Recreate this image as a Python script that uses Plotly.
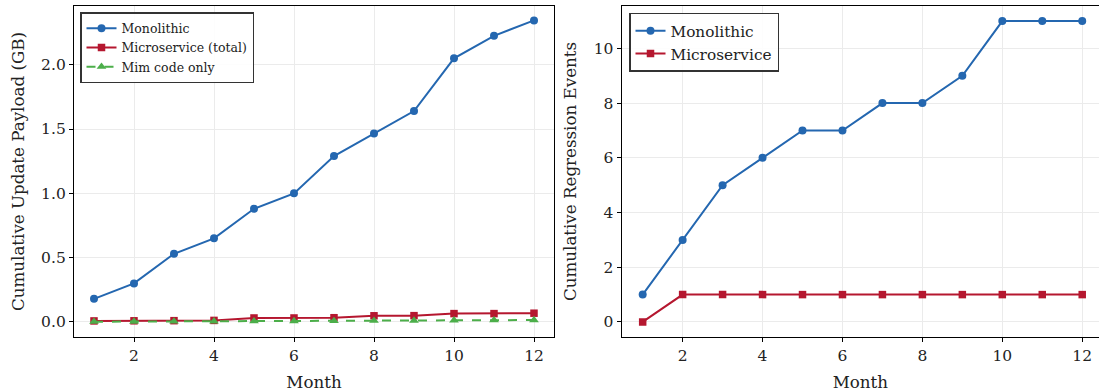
import plotly.graph_objects as go

months = list(range(1, 13))
payload_mono = [0.18, 0.30, 0.53, 0.65, 0.88, 1.00, 1.29, 1.465, 1.64, 2.05, 2.225, 2.345]
payload_micro = [0.008, 0.009, 0.010, 0.012, 0.031, 0.031, 0.033, 0.048, 0.049, 0.065, 0.065, 0.068]
payload_mim = [0.002, 0.003, 0.004, 0.005, 0.006, 0.007, 0.008, 0.010, 0.011, 0.013, 0.014, 0.015]
reg_mono = [1, 3, 5, 6, 7, 7, 8, 8, 9, 11, 11, 11]
reg_micro = [0, 1, 1, 1, 1, 1, 1, 1, 1, 1, 1, 1]

BLUE = "#2467b0"
RED = "#b5172f"
GREEN = "#4cae4a"
FONT = "DejaVu Serif"
W, H = 1099, 392

fig = go.Figure()
fig.add_trace(go.Scatter(x=months, y=payload_mono, name="Monolithic", mode="lines+markers",
                         line=dict(color=BLUE, width=2), marker=dict(symbol="circle", size=8, color=BLUE),
                         xaxis="x", yaxis="y", legend="legend"))
fig.add_trace(go.Scatter(x=months, y=payload_micro, name="Microservice (total)", mode="lines+markers",
                         line=dict(color=RED, width=2), marker=dict(symbol="square", size=7.5, color=RED),
                         xaxis="x", yaxis="y", legend="legend"))
fig.add_trace(go.Scatter(x=months, y=payload_mim, name="Mim code only", mode="lines+markers",
                         line=dict(color=GREEN, width=2, dash="dash"),
                         marker=dict(symbol="triangle-up", size=8.5, color=GREEN),
                         xaxis="x", yaxis="y", legend="legend"))
fig.add_trace(go.Scatter(x=months, y=reg_mono, name="Monolithic", mode="lines+markers",
                         line=dict(color=BLUE, width=2), marker=dict(symbol="circle", size=8, color=BLUE),
                         xaxis="x2", yaxis="y2", legend="legend2"))
fig.add_trace(go.Scatter(x=months, y=reg_micro, name="Microservice", mode="lines+markers",
                         line=dict(color=RED, width=2), marker=dict(symbol="square", size=7.5, color=RED),
                         xaxis="x2", yaxis="y2", legend="legend2"))

ydom = [(H - 337) / H, (H - 6) / H]
TICK = dict(family=FONT, size=15.5, color="#222")
TITLE = dict(family=FONT, size=16.7, color="#222")
axis_common = dict(showline=True, linecolor="black", linewidth=1.3, ticks="outside", ticklen=4,
                   tickwidth=1.1, tickcolor="black", showgrid=True, gridcolor="#ebebeb", gridwidth=0.8,
                   zeroline=False, tickfont=TICK, automargin=False)

fig.update_layout(
    width=W, height=H, margin=dict(l=0, r=0, t=0, b=0),
    paper_bgcolor="white", plot_bgcolor="white",
    font=dict(family=FONT, color="#222"),
    xaxis=dict(domain=[74 / W, 554 / W], range=[0.5, 12.5], tickvals=[2, 4, 6, 8, 10, 12],
               mirror=True, anchor="y",
               title=dict(text="Month", font=TITLE, standoff=12),
               **axis_common),
    yaxis=dict(domain=ydom, range=[-0.117, 2.457], tickvals=[0, 0.5, 1.0, 1.5, 2.0],
               ticktext=["0.0", "0.5", "1.0", "1.5", "2.0"], mirror=True, anchor="x",
               title=dict(text="Cumulative Update Payload (GB)", font=TITLE, standoff=12),
               **axis_common),
    xaxis2=dict(domain=[621.7 / W, 1.0], range=[0.475, 12.42], tickvals=[2, 4, 6, 8, 10, 12],
                mirror=True, anchor="y2",
                title=dict(text="Month", font=TITLE, standoff=12),
                **axis_common),
    yaxis2=dict(domain=ydom, range=[-0.55, 11.55], tickvals=[0, 2, 4, 6, 8, 10], anchor="x2",
                title=dict(text="Cumulative Regression Events", font=TITLE, standoff=12),
                **axis_common),
    legend=dict(x=80 / W, y=(H - 12) / H, xanchor="left", yanchor="top", bgcolor="rgba(255,255,255,0.9)",
                bordercolor="#333", borderwidth=1.5, font=dict(family=FONT, size=12.5, color="#222"),
                tracegroupgap=0, itemwidth=30),
    legend2=dict(x=629 / W, y=(H - 12.7) / H, xanchor="left", yanchor="top", bgcolor="rgba(255,255,255,0.9)",
                 bordercolor="#333", borderwidth=1.5, font=dict(family=FONT, size=15.3, color="#222"),
                 tracegroupgap=0, itemwidth=30),
)

fig.write_html("out.html")
